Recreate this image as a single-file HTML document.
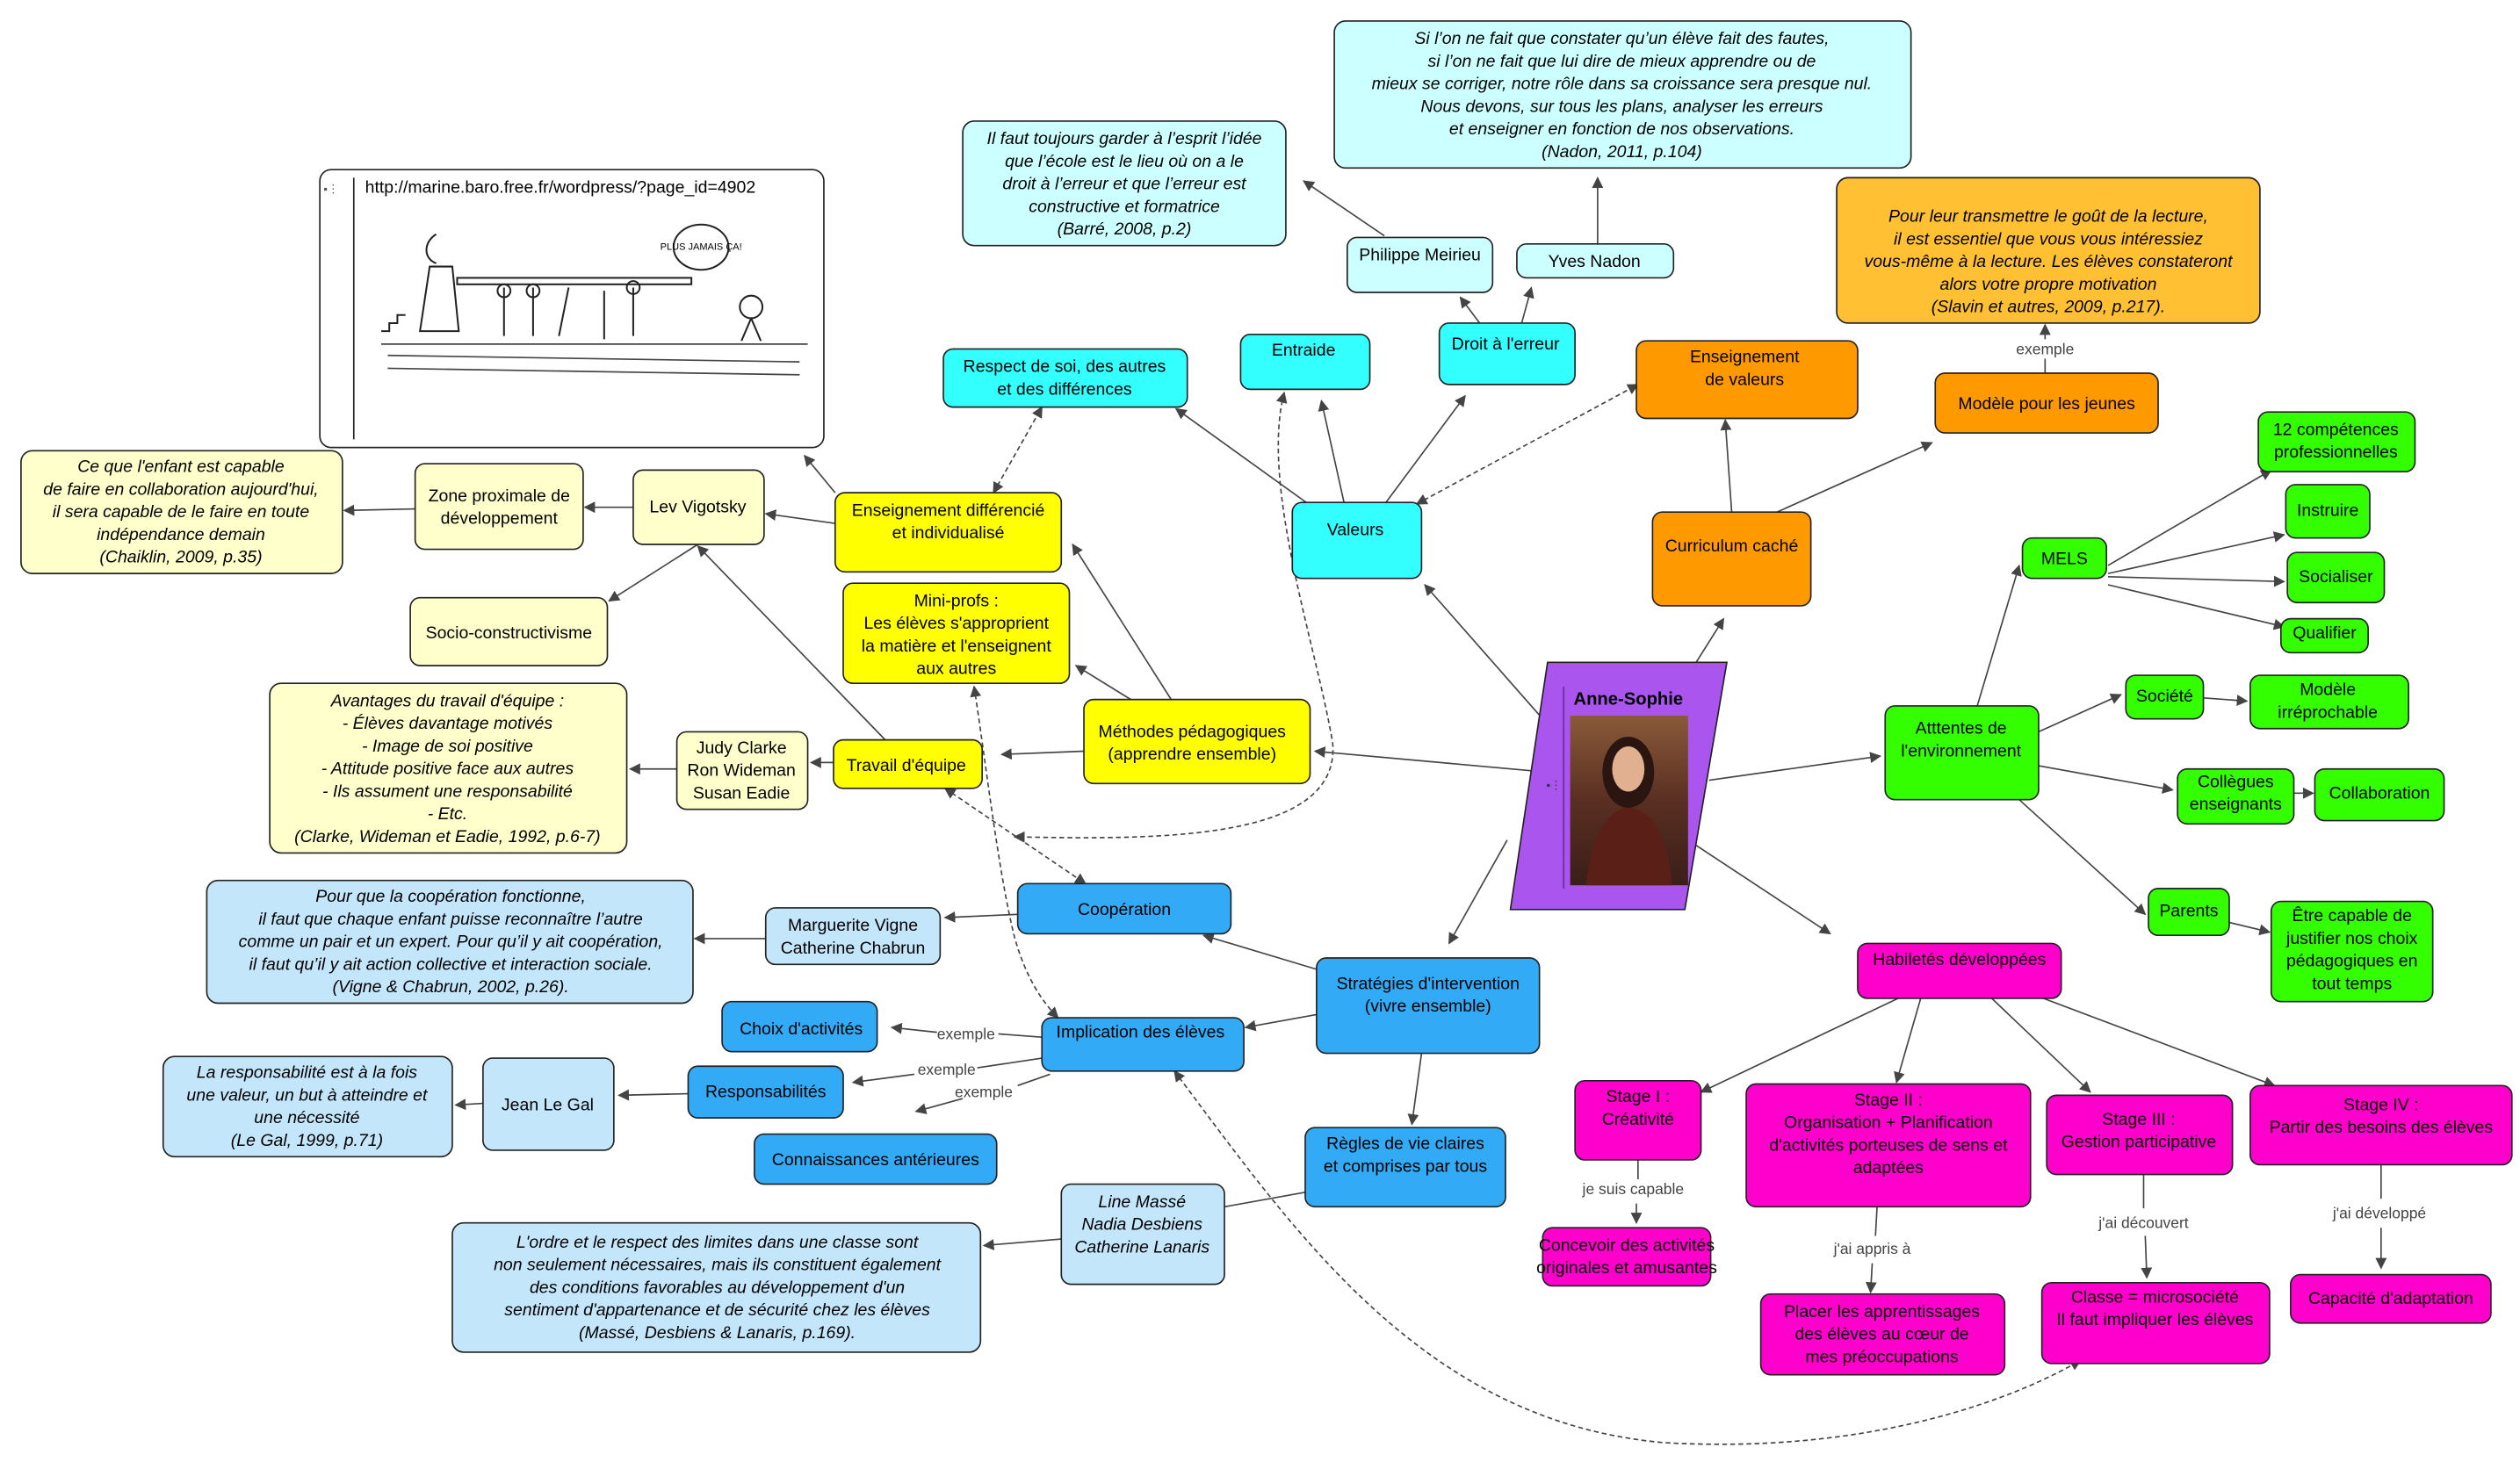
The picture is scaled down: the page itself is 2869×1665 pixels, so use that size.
<!DOCTYPE html>
<html><head><meta charset="utf-8"><style>
html,body{margin:0;padding:0;background:#fff;}
svg{display:block;}
text{font-family:"Liberation Sans",Arial,sans-serif;font-size:10.6px;fill:#000;text-anchor:middle;dominant-baseline:central;}
.i{font-style:italic;}
.lb{font-size:9.5px;fill:#444;}
rect.n{stroke:#222;stroke-width:0.9;}
line,path.e{stroke:#444;stroke-width:0.9;fill:none;}
.d{stroke-dasharray:3,2;}
</style></head><body>
<svg width="2869" height="1665" viewBox="0 0 1560 905" preserveAspectRatio="none" xmlns="http://www.w3.org/2000/svg">
<defs>
<marker id="a" viewBox="0 0 10 10" refX="9" refY="5" markerWidth="7" markerHeight="7" orient="auto-start-reverse" markerUnits="userSpaceOnUse"><path d="M0,0L10,5L0,10z" fill="#444"/></marker>
<linearGradient id="ph" x1="0" y1="0" x2="0" y2="1"><stop offset="0" stop-color="#8a5a3a"/><stop offset="0.5" stop-color="#5a2f22"/><stop offset="1" stop-color="#3a1e18"/></linearGradient>
</defs>
<rect width="1560" height="905" fill="#fff"/>

<!-- edges -->
<g marker-end="url(#a)">
<line x1="955" y1="445" x2="882" y2="362"/>
<line x1="1050" y1="410" x2="1067" y2="383"/>
<line x1="958" y1="478" x2="814" y2="465"/>
<line x1="1058" y1="483" x2="1164" y2="468"/>
<line x1="933" y1="520" x2="897" y2="584"/>
<line x1="1048" y1="522" x2="1133" y2="578"/>
<line x1="810" y1="312" x2="728" y2="253"/>
<line x1="832" y1="311" x2="818" y2="248"/>
<line x1="858" y1="311" x2="907" y2="245"/>
<line x1="916" y1="200" x2="904" y2="184"/>
<line x1="942" y1="200" x2="948" y2="178"/>
<line x1="857" y1="146" x2="807" y2="112"/>
<line x1="989" y1="151" x2="989" y2="110"/>
<line x1="1072" y1="317" x2="1068" y2="260"/>
<line x1="1100" y1="317" x2="1196" y2="274"/>
<line x1="1266" y1="223" x2="1266" y2="201"/>
<line x1="1224" y1="437" x2="1250" y2="350"/>
<line x1="1305" y1="350" x2="1406" y2="291"/>
<line x1="1305" y1="355" x2="1414" y2="331"/>
<line x1="1305" y1="357" x2="1414" y2="360"/>
<line x1="1305" y1="362" x2="1414" y2="388"/>
<line x1="1262" y1="453" x2="1313" y2="430"/>
<line x1="1364" y1="432" x2="1391" y2="434"/>
<line x1="1262" y1="474" x2="1345" y2="489"/>
<line x1="1420" y1="491" x2="1432" y2="491"/>
<line x1="1250" y1="495" x2="1328" y2="566"/>
<line x1="1380" y1="571" x2="1405" y2="577"/>
<line x1="1175" y1="618" x2="1053" y2="676"/>
<line x1="1189" y1="618" x2="1174" y2="670"/>
<line x1="1233" y1="618" x2="1294" y2="676"/>
<line x1="1265" y1="618" x2="1408" y2="672"/>
<line x1="1013" y1="745" x2="1013" y2="757"/>
<line x1="1159" y1="782" x2="1158" y2="800"/>
<line x1="1328" y1="765" x2="1329" y2="791"/>
<line x1="1474" y1="760" x2="1474" y2="785"/>
<line x1="815" y1="600" x2="745" y2="579"/>
<line x1="815" y1="628" x2="771" y2="636"/>
<line x1="880" y1="652" x2="874" y2="696"/>
<line x1="657" y1="767" x2="609" y2="771"/>
<line x1="630" y1="566" x2="585" y2="568"/>
<line x1="474" y1="581" x2="430" y2="581"/>
<line x1="580" y1="639" x2="552" y2="636"/>
<line x1="566" y1="665" x2="528" y2="670"/>
<line x1="596" y1="680" x2="567" y2="688"/>
<line x1="426" y1="677" x2="383" y2="678"/>
<line x1="299" y1="683" x2="282" y2="684"/>
<line x1="700" y1="433" x2="666" y2="412"/>
<line x1="725" y1="433" x2="664" y2="337"/>
<line x1="671" y1="465" x2="620" y2="467"/>
<line x1="517" y1="324" x2="474" y2="318"/>
<line x1="517" y1="305" x2="498" y2="282"/>
<line x1="392" y1="314" x2="362" y2="314"/>
<line x1="257" y1="315" x2="213" y2="316"/>
<line x1="432" y1="337" x2="377" y2="372"/>
<line x1="548" y1="458" x2="432" y2="338"/>
<line x1="516" y1="472" x2="502" y2="472"/>
<line x1="419" y1="476" x2="390" y2="476"/>
</g>
<!-- edges w/o arrow parts -->
<line x1="1266" y1="231" x2="1266" y2="223"/>
<line x1="1014" y1="718" x2="1014" y2="731"/>
<line x1="1162" y1="747" x2="1161" y2="765"/>
<line x1="1327" y1="727" x2="1327" y2="748"/>
<line x1="1474" y1="721" x2="1474" y2="742"/>
<line x1="808" y1="738" x2="758" y2="747"/>
<line x1="645" y1="642" x2="618" y2="640"/>
<line x1="645" y1="655" x2="605" y2="661"/>
<line x1="650" y1="665" x2="630" y2="672"/>
<!-- dashed -->
<g class="d" marker-start="url(#a)" marker-end="url(#a)">
<line class="d" x1="877" y1="312" x2="1014" y2="238"/>
<line class="d" x1="615" y1="305" x2="645" y2="252"/>
<line class="d" x1="585" y1="488" x2="672" y2="547"/>
<path class="e d" d="M603,425 C610,470 618,540 628,580 C635,605 645,620 655,630"/>
<path class="e d" d="M795,243 C780,300 815,400 825,460 C830,520 720,520 628,518"/>
<path class="e d" d="M727,663 C800,760 880,880 1030,893 C1150,900 1240,870 1288,842"/>
</g>

<!-- edge labels -->
<rect x="1246" y="210" width="40" height="12" fill="#fff"/><text class="lb" x="1266" y="216">exemple</text>
<rect x="980" y="730" width="66" height="12" fill="#fff"/><text class="lb" x="1011" y="736">je suis capable</text>
<text class="lb" x="1159" y="773">j'ai appris à</text>
<text class="lb" x="1327" y="757">j'ai découvert</text>
<text class="lb" x="1473" y="751">j'ai développé</text>
<text class="lb" x="598" y="640">exemple</text>
<text class="lb" x="586" y="662">exemple</text>
<text class="lb" x="609" y="676">exemple</text>

<!-- image node -->
<rect class="n" x="198" y="105" width="312" height="172" rx="7" fill="#fff"/>
<line x1="219" y1="110" x2="219" y2="272" style="stroke:#222"/>
<text x="205" y="117" style="font-size:7px;fill:#555">▪⋮</text>
<text x="226" y="116" style="text-anchor:start">http://marine.baro.free.fr/wordpress/?page_id=4902</text>
<g style="stroke:#222;stroke-width:1.1;fill:none">
<line x1="236" y1="213" x2="500" y2="213"/>
<path d="M236,205 h5 v-5 h5 v-5 h5" />
<path d="M270,145 c-8,5 -8,15 0,18 M266,165 l-6,40 h24 l-4,-40 z"/>
<rect x="283" y="172" width="145" height="4"/>
<path d="M312,178 v30 M330,178 v30 M352,178 l-6,30 M374,180 v30 M392,178 v30"/>
<circle cx="312" cy="180" r="4"/><circle cx="330" cy="180" r="4"/><circle cx="392" cy="178" r="4"/>
<ellipse cx="434" cy="153" rx="17" ry="14"/>
<circle cx="465" cy="190" r="7"/><path d="M465,197 l-6,14 M465,197 l6,14"/>
</g>
<text x="434" y="153" style="font-size:6px">PLUS JAMAIS ÇA!</text>
<g style="stroke:#bbb;stroke-width:0.6">
<line x1="240" y1="220" x2="495" y2="224"/><line x1="240" y1="228" x2="495" y2="232"/>
</g>

<!-- quotes & nodes -->
<g>
<rect class="n" x="596" y="75" width="200" height="77" rx="7" fill="#ccffff"/>
<text class="i" x="696"><tspan x="696" y="86">Il faut toujours garder à l’esprit l’idée</tspan><tspan x="696" y="100">que l’école est le lieu où on a le</tspan><tspan x="696" y="114">droit à l’erreur et que l’erreur est</tspan><tspan x="696" y="128">constructive et formatrice</tspan><tspan x="696" y="142">(Barré, 2008, p.2)</tspan></text>

<rect class="n" x="826" y="13" width="357" height="91" rx="7" fill="#ccffff"/>
<text class="i"><tspan x="1004" y="24">Si l’on ne fait que constater qu’un élève fait des fautes,</tspan><tspan x="1004" y="38">si l’on ne fait que lui dire de mieux apprendre ou de</tspan><tspan x="1004" y="52">mieux se corriger, notre rôle dans sa croissance sera presque nul.</tspan><tspan x="1004" y="66">Nous devons, sur tous les plans, analyser les erreurs</tspan><tspan x="1004" y="80">et enseigner en fonction de nos observations.</tspan><tspan x="1004" y="94">(Nadon, 2011, p.104)</tspan></text>

<rect class="n" x="834" y="147" width="90" height="34" rx="6" fill="#ccffff"/><text x="879" y="158">Philippe Meirieu</text>
<rect class="n" x="939" y="151" width="97" height="21" rx="6" fill="#ccffff"/><text x="987" y="162">Yves Nadon</text>
<rect class="n" x="768" y="207" width="80" height="34" rx="6" fill="#33ffff"/><text x="807" y="217">Entraide</text>
<rect class="n" x="891" y="200" width="84" height="38" rx="6" fill="#33ffff"/><text x="932" y="213">Droit à l'erreur</text>
<rect class="n" x="584" y="216" width="151" height="36" rx="6" fill="#33ffff"/><text><tspan x="659" y="227">Respect de soi, des autres</tspan><tspan x="659" y="241">et des différences</tspan></text>
<rect class="n" x="800" y="311" width="80" height="47" rx="6" fill="#33ffff"/><text x="839" y="328">Valeurs</text>

<rect class="n" x="1013" y="211" width="137" height="48" rx="6" fill="#ff9900"/><text><tspan x="1080" y="221">Enseignement</tspan><tspan x="1080" y="235">de valeurs</tspan></text>
<rect class="n" x="1023" y="317" width="98" height="58" rx="6" fill="#ff9900"/><text x="1072" y="338">Curriculum caché</text>
<rect class="n" x="1198" y="231" width="138" height="37" rx="6" fill="#ff9900"/><text x="1267" y="250">Modèle pour les jeunes</text>
<rect class="n" x="1137" y="110" width="262" height="90" rx="7" fill="#ffc133"/>
<text class="i"><tspan x="1268" y="134">Pour leur transmettre le goût de la lecture,</tspan><tspan x="1268" y="148">il est essentiel que vous vous intéressiez</tspan><tspan x="1268" y="162">vous-même à la lecture. Les élèves constateront</tspan><tspan x="1268" y="176">alors votre propre motivation</tspan><tspan x="1268" y="190">(Slavin et autres, 2009, p.217).</tspan></text>

<rect class="n" x="1398" y="255" width="97" height="37" rx="6" fill="#33ff00"/><text><tspan x="1446" y="266">12 compétences</tspan><tspan x="1446" y="280">professionnelles</tspan></text>
<rect class="n" x="1415" y="300" width="52" height="33" rx="6" fill="#33ff00"/><text x="1441" y="316">Instruire</text>
<rect class="n" x="1416" y="342" width="60" height="31" rx="6" fill="#33ff00"/><text x="1446" y="357">Socialiser</text>
<rect class="n" x="1412" y="383" width="54" height="21" rx="6" fill="#33ff00"/><text x="1439" y="392">Qualifier</text>
<rect class="n" x="1252" y="333" width="52" height="25" rx="6" fill="#33ff00"/><text x="1278" y="346">MELS</text>
<rect class="n" x="1167" y="437" width="95" height="58" rx="6" fill="#33ff00"/><text><tspan x="1214" y="451">Atttentes de</tspan><tspan x="1214" y="465">l'environnement</tspan></text>
<rect class="n" x="1316" y="418" width="48" height="27" rx="6" fill="#33ff00"/><text x="1340" y="431">Société</text>
<rect class="n" x="1393" y="418" width="98" height="33" rx="6" fill="#33ff00"/><text><tspan x="1441" y="427">Modèle</tspan><tspan x="1441" y="441">irréprochable</tspan></text>
<rect class="n" x="1348" y="476" width="72" height="34" rx="6" fill="#33ff00"/><text><tspan x="1384" y="484">Collègues</tspan><tspan x="1384" y="498">enseignants</tspan></text>
<rect class="n" x="1433" y="476" width="80" height="32" rx="6" fill="#33ff00"/><text x="1473" y="491">Collaboration</text>
<rect class="n" x="1330" y="550" width="50" height="29" rx="6" fill="#33ff00"/><text x="1355" y="564">Parents</text>
<rect class="n" x="1406" y="558" width="100" height="62" rx="6" fill="#33ff00"/><text><tspan x="1456" y="567">Être capable de</tspan><tspan x="1456" y="581">justifier nos choix</tspan><tspan x="1456" y="595">pédagogiques en</tspan><tspan x="1456" y="609">tout temps</tspan></text>

<rect class="n" x="1150" y="584" width="126" height="34" rx="6" fill="#ff00cc"/><text x="1213" y="594">Habiletés développées</text>
<rect class="n" x="975" y="669" width="78" height="49" rx="6" fill="#ff00cc"/><text><tspan x="1014" y="679">Stage I :</tspan><tspan x="1014" y="693">Créativité</tspan></text>
<rect class="n" x="1081" y="671" width="176" height="76" rx="6" fill="#ff00cc"/><text><tspan x="1169" y="681">Stage II :</tspan><tspan x="1169" y="695">Organisation + Planification</tspan><tspan x="1169" y="709">d'activités porteuses de sens et</tspan><tspan x="1169" y="723">adaptées</tspan></text>
<rect class="n" x="1267" y="678" width="115" height="49" rx="6" fill="#ff00cc"/><text><tspan x="1324" y="693">Stage III :</tspan><tspan x="1324" y="707">Gestion participative</tspan></text>
<rect class="n" x="1393" y="672" width="162" height="49" rx="6" fill="#ff00cc"/><text><tspan x="1474" y="684">Stage IV :</tspan><tspan x="1474" y="698">Partir des besoins des élèves</tspan></text>
<rect class="n" x="955" y="760" width="104" height="36" rx="6" fill="#ff00cc"/><text><tspan x="1007" y="771">Concevoir des activités</tspan><tspan x="1007" y="785">originales et amusantes</tspan></text>
<rect class="n" x="1090" y="801" width="151" height="50" rx="6" fill="#ff00cc"/><text><tspan x="1165" y="812">Placer les apprentissages</tspan><tspan x="1165" y="826">des élèves au cœur de</tspan><tspan x="1165" y="840">mes préoccupations</tspan></text>
<rect class="n" x="1264" y="794" width="141" height="50" rx="6" fill="#ff00cc"/><text><tspan x="1334" y="803">Classe = microsociété</tspan><tspan x="1334" y="817">Il faut impliquer les élèves</tspan></text>
<rect class="n" x="1418" y="789" width="124" height="30" rx="6" fill="#ff00cc"/><text x="1480" y="804">Capacité d'adaptation</text>

<rect class="n" x="815" y="593" width="138" height="59" rx="6" fill="#33aaf5"/><text><tspan x="884" y="609">Stratégies d'intervention</tspan><tspan x="884" y="623">(vivre ensemble)</tspan></text>
<rect class="n" x="808" y="698" width="124" height="49" rx="6" fill="#33aaf5"/><text><tspan x="870" y="708">Règles de vie claires</tspan><tspan x="870" y="722">et comprises par tous</tspan></text>
<rect class="n" x="630" y="547" width="132" height="31" rx="6" fill="#33aaf5"/><text x="696" y="563">Coopération</text>
<rect class="n" x="645" y="630" width="125" height="33" rx="6" fill="#33aaf5"/><text x="706" y="639">Implication des élèves</text>
<rect class="n" x="447" y="620" width="96" height="31" rx="6" fill="#33aaf5"/><text x="496" y="637">Choix d'activités</text>
<rect class="n" x="426" y="660" width="96" height="32" rx="6" fill="#33aaf5"/><text x="474" y="676">Responsabilités</text>
<rect class="n" x="467" y="702" width="150" height="31" rx="6" fill="#33aaf5"/><text x="542" y="718">Connaissances antérieures</text>
<rect class="n" x="474" y="562" width="108" height="35" rx="6" fill="#c4e6fb"/><text><tspan x="528" y="573">Marguerite Vigne</tspan><tspan x="528" y="587">Catherine Chabrun</tspan></text>
<rect class="n" x="128" y="545" width="301" height="76" rx="7" fill="#c4e6fb"/><text class="i"><tspan x="279" y="555">Pour que la coopération fonctionne,</tspan><tspan x="279" y="569">il faut que chaque enfant puisse reconnaître l’autre</tspan><tspan x="279" y="583">comme un pair et un expert. Pour qu’il y ait coopération,</tspan><tspan x="279" y="597">il faut qu’il y ait action collective et interaction sociale.</tspan><tspan x="279" y="611">(Vigne &amp; Chabrun, 2002, p.26).</tspan></text>
<rect class="n" x="299" y="655" width="81" height="57" rx="6" fill="#c4e6fb"/><text x="339" y="684">Jean Le Gal</text>
<rect class="n" x="101" y="654" width="179" height="62" rx="7" fill="#c4e6fb"/><text class="i"><tspan x="190" y="664">La responsabilité est à la fois</tspan><tspan x="190" y="678">une valeur, un but à atteindre et</tspan><tspan x="190" y="692">une nécessité</tspan><tspan x="190" y="706">(Le Gal, 1999, p.71)</tspan></text>
<rect class="n" x="657" y="733" width="101" height="62" rx="6" fill="#c4e6fb"/><text class="i"><tspan x="707" y="744">Line Massé</tspan><tspan x="707" y="758">Nadia Desbiens</tspan><tspan x="707" y="772">Catherine Lanaris</tspan></text>
<rect class="n" x="280" y="757" width="327" height="80" rx="7" fill="#c4e6fb"/><text class="i"><tspan x="444" y="769">L'ordre et le respect des limites dans une classe sont</tspan><tspan x="444" y="783">non seulement nécessaires, mais ils constituent également</tspan><tspan x="444" y="797">des conditions favorables au développement d'un</tspan><tspan x="444" y="811">sentiment d'appartenance et de sécurité chez les élèves</tspan><tspan x="444" y="825">(Massé, Desbiens &amp; Lanaris, p.169).</tspan></text>

<rect class="n" x="671" y="433" width="140" height="52" rx="6" fill="#ffff00"/><text><tspan x="738" y="453">Méthodes pédagogiques</tspan><tspan x="738" y="467">(apprendre ensemble)</tspan></text>
<rect class="n" x="522" y="361" width="140" height="62" rx="6" fill="#ffff00"/><text><tspan x="592" y="372">Mini-profs :</tspan><tspan x="592" y="386">Les élèves s'approprient</tspan><tspan x="592" y="400">la matière et l'enseignent</tspan><tspan x="592" y="414">aux autres</tspan></text>
<rect class="n" x="517" y="305" width="140" height="49" rx="6" fill="#ffff00"/><text><tspan x="587" y="316">Enseignement différencié</tspan><tspan x="587" y="330">et individualisé</tspan></text>
<rect class="n" x="516" y="458" width="92" height="30" rx="6" fill="#ffff00"/><text x="561" y="474">Travail d'équipe</text>
<rect class="n" x="392" y="291" width="81" height="46" rx="6" fill="#ffffcc"/><text x="432" y="314">Lev Vigotsky</text>
<rect class="n" x="257" y="287" width="104" height="53" rx="6" fill="#ffffcc"/><text><tspan x="309" y="307">Zone proximale de</tspan><tspan x="309" y="321">développement</tspan></text>
<rect class="n" x="13" y="279" width="199" height="76" rx="7" fill="#ffffcc"/><text class="i"><tspan x="112" y="289">Ce que l'enfant est capable</tspan><tspan x="112" y="303">de faire en collaboration aujourd'hui,</tspan><tspan x="112" y="317">il sera capable de le faire en toute</tspan><tspan x="112" y="331">indépendance demain</tspan><tspan x="112" y="345">(Chaiklin, 2009, p.35)</tspan></text>
<rect class="n" x="254" y="370" width="122" height="42" rx="6" fill="#ffffcc"/><text x="315" y="392">Socio-constructivisme</text>
<rect class="n" x="419" y="453" width="81" height="48" rx="6" fill="#ffffcc"/><text><tspan x="459" y="463">Judy Clarke</tspan><tspan x="459" y="477">Ron Wideman</tspan><tspan x="459" y="491">Susan Eadie</tspan></text>
<rect class="n" x="167" y="423" width="221" height="105" rx="7" fill="#ffffcc"/><text class="i"><tspan x="277" y="434">Avantages du travail d'équipe :</tspan><tspan x="277" y="448">-  Élèves davantage motivés</tspan><tspan x="277" y="462">- Image de soi positive</tspan><tspan x="277" y="476">- Attitude positive face aux autres</tspan><tspan x="277" y="490">- Ils assument une responsabilité</tspan><tspan x="277" y="504">- Etc.</tspan><tspan x="277" y="518">(Clarke, Wideman et Eadie, 1992, p.6-7)</tspan></text>
</g>

<!-- central node -->
<polygon points="958,410 1069,410 1043,563 935,563" fill="#aa55ee" stroke="#222" stroke-width="0.9"/>
<line x1="968" y1="425" x2="968" y2="550" style="stroke:#6a2aa0"/>
<text x="1008" y="433" style="font-weight:bold;font-size:11px">Anne-Sophie</text>
<text x="962" y="486" style="font-size:7px;fill:#333">▪⋮</text>
<rect x="972" y="443" width="73" height="105" fill="url(#ph)"/>
<ellipse cx="1008" cy="478" rx="16" ry="22" fill="#2a1510"/>
<ellipse cx="1008" cy="476" rx="10" ry="14" fill="#e0b090"/>
<path d="M982,548 C985,510 1000,500 1008,500 C1018,500 1032,510 1035,548 z" fill="#5a2018"/>
</svg>
</body></html>
